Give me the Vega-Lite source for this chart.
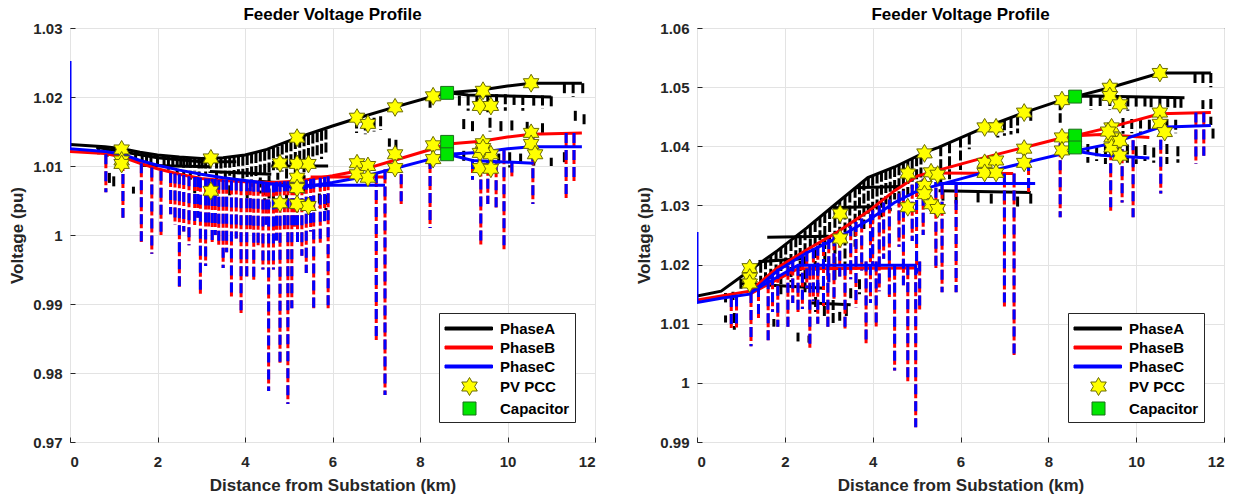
{
"$schema": "https://vega.github.io/schema/vega-lite/v6.json",
"padding": {"left": 8, "top": 5, "right": 5, "bottom": 5},
"background": "white",
"config": {
  "font": "Liberation Sans",
  "view": {"stroke": "#262626", "strokeWidth": 1},
  "title": {"fontSize": 17, "fontWeight": "bold", "color": "#000000", "offset": -3, "font": "Liberation Sans"},
  "axis": {"labelFont": "Liberation Sans", "labelFontSize": 15, "labelFontWeight": "bold", "labelColor": "#262626", "titleFont": "Liberation Sans", "titleFontSize": 17, "titleFontWeight": "bold", "titleColor": "#262626", "gridColor": "#e3e3e3", "gridWidth": 1, "domain": false, "ticks": true, "tickSize": -5, "tickColor": "#262626", "tickWidth": 1},
  "axisX": {"labelPadding": 17, "titlePadding": 8},
  "axisY": {"labelPadding": 13, "titlePadding": 6},
  "legend": {"labelFont": "Liberation Sans", "labelFontSize": 15, "labelFontWeight": "bold", "labelColor": "#000000", "strokeColor": "#262626", "fillColor": "#ffffff", "padding": 5, "rowPadding": 0, "symbolSize": 400, "symbolStrokeWidth": 1, "symbolOpacity": 1, "labelOffset": 35, "orient": "bottom-right", "offset": 20}
},
"datasets": {
"lines": [
{"p":"L","s":"LA","k":"PhaseA","x":0,"v":1.0131},{"p":"L","s":"LA","k":"PhaseA","x":0.8,"v":1.0128},{"p":"L","s":"LA","k":"PhaseA","x":1.2,"v":1.0125},{"p":"L","s":"LA","k":"PhaseA","x":1.6,"v":1.012},{"p":"L","s":"LA","k":"PhaseA","x":2,"v":1.0116},{"p":"L","s":"LA","k":"PhaseA","x":2.5,"v":1.0113},{"p":"L","s":"LA","k":"PhaseA","x":3,"v":1.0111},{"p":"L","s":"LA","k":"PhaseA","x":3.5,"v":1.0112},{"p":"L","s":"LA","k":"PhaseA","x":4,"v":1.0116},{"p":"L","s":"LA","k":"PhaseA","x":4.5,"v":1.0124},{"p":"L","s":"LA","k":"PhaseA","x":5.2,"v":1.0141},{"p":"L","s":"LA","k":"PhaseA","x":6,"v":1.0158},{"p":"L","s":"LA","k":"PhaseA","x":6.6,"v":1.017},{"p":"L","s":"LA","k":"PhaseA","x":7.4,"v":1.0185},{"p":"L","s":"LA","k":"PhaseA","x":8.3,"v":1.0201},{"p":"L","s":"LA","k":"PhaseA","x":8.64,"v":1.0206},{"p":"L","s":"LA","k":"PhaseA","x":9.4,"v":1.021},{"p":"L","s":"LA","k":"PhaseA","x":10,"v":1.0216},{"p":"L","s":"LA","k":"PhaseA","x":10.54,"v":1.022},{"p":"L","s":"LA","k":"PhaseA","x":11.7,"v":1.022},
{"p":"L","s":"LA2","k":"PhaseA","x":8.64,"v":1.0206},{"p":"L","s":"LA2","k":"PhaseA","x":9.1,"v":1.0203},{"p":"L","s":"LA2","k":"PhaseA","x":11.0,"v":1.02},
{"p":"L","s":"LA3","k":"PhaseA","x":4.6,"v":1.01},{"p":"L","s":"LA3","k":"PhaseA","x":5.9,"v":1.01},
{"p":"L","s":"LA4","k":"PhaseA","x":0.6,"v":1.0127},{"p":"L","s":"LA4","k":"PhaseA","x":2,"v":1.0112},{"p":"L","s":"LA4","k":"PhaseA","x":3,"v":1.0106},{"p":"L","s":"LA4","k":"PhaseA","x":3.8,"v":1.0106},
{"p":"L","s":"LA5","k":"PhaseA","x":1.6,"v":1.0101},{"p":"L","s":"LA5","k":"PhaseA","x":3.2,"v":1.0099},
{"p":"L","s":"LA6","k":"PhaseA","x":3.2,"v":1.0092},{"p":"L","s":"LA6","k":"PhaseA","x":4.6,"v":1.0088},
{"p":"L","s":"LA7","k":"PhaseA","x":4.3,"v":1.0078},{"p":"L","s":"LA7","k":"PhaseA","x":5.2,"v":1.0074},
{"p":"L","s":"LB","k":"PhaseB","x":0,"v":1.0121},{"p":"L","s":"LB","k":"PhaseB","x":0.8,"v":1.0118},{"p":"L","s":"LB","k":"PhaseB","x":1.2,"v":1.0113},{"p":"L","s":"LB","k":"PhaseB","x":1.6,"v":1.0104},{"p":"L","s":"LB","k":"PhaseB","x":2,"v":1.0096},{"p":"L","s":"LB","k":"PhaseB","x":2.5,"v":1.0088},{"p":"L","s":"LB","k":"PhaseB","x":3,"v":1.0082},{"p":"L","s":"LB","k":"PhaseB","x":3.5,"v":1.0079},{"p":"L","s":"LB","k":"PhaseB","x":4,"v":1.0077},{"p":"L","s":"LB","k":"PhaseB","x":4.6,"v":1.0076},{"p":"L","s":"LB","k":"PhaseB","x":5.2,"v":1.0078},{"p":"L","s":"LB","k":"PhaseB","x":6,"v":1.0086},{"p":"L","s":"LB","k":"PhaseB","x":6.6,"v":1.0093},{"p":"L","s":"LB","k":"PhaseB","x":7.4,"v":1.0108},{"p":"L","s":"LB","k":"PhaseB","x":8.3,"v":1.0125},{"p":"L","s":"LB","k":"PhaseB","x":8.64,"v":1.0132},{"p":"L","s":"LB","k":"PhaseB","x":9.4,"v":1.0136},{"p":"L","s":"LB","k":"PhaseB","x":10,"v":1.0142},{"p":"L","s":"LB","k":"PhaseB","x":10.54,"v":1.0146},{"p":"L","s":"LB","k":"PhaseB","x":11.7,"v":1.0148},
{"p":"L","s":"LB2","k":"PhaseB","x":5.5,"v":1.0084},{"p":"L","s":"LB2","k":"PhaseB","x":7.2,"v":1.0084},
{"p":"L","s":"LC","k":"PhaseC","x":0,"v":1.0252},{"p":"L","s":"LC","k":"PhaseC","x":0,"v":1.0125},{"p":"L","s":"LC","k":"PhaseC","x":0.8,"v":1.0121},{"p":"L","s":"LC","k":"PhaseC","x":1.2,"v":1.0117},{"p":"L","s":"LC","k":"PhaseC","x":1.6,"v":1.0108},{"p":"L","s":"LC","k":"PhaseC","x":2,"v":1.0101},{"p":"L","s":"LC","k":"PhaseC","x":2.5,"v":1.0094},{"p":"L","s":"LC","k":"PhaseC","x":3,"v":1.0088},{"p":"L","s":"LC","k":"PhaseC","x":3.5,"v":1.0083},{"p":"L","s":"LC","k":"PhaseC","x":4,"v":1.0079},{"p":"L","s":"LC","k":"PhaseC","x":4.5,"v":1.0075},{"p":"L","s":"LC","k":"PhaseC","x":5.2,"v":1.0068},{"p":"L","s":"LC","k":"PhaseC","x":6,"v":1.0076},{"p":"L","s":"LC","k":"PhaseC","x":6.6,"v":1.0083},{"p":"L","s":"LC","k":"PhaseC","x":7.4,"v":1.0096},{"p":"L","s":"LC","k":"PhaseC","x":8.3,"v":1.0111},{"p":"L","s":"LC","k":"PhaseC","x":8.64,"v":1.0117},{"p":"L","s":"LC","k":"PhaseC","x":9.4,"v":1.012},{"p":"L","s":"LC","k":"PhaseC","x":10,"v":1.0125},{"p":"L","s":"LC","k":"PhaseC","x":10.54,"v":1.0128},{"p":"L","s":"LC","k":"PhaseC","x":11.7,"v":1.0128},
{"p":"L","s":"LC3","k":"PhaseC","x":5.2,"v":1.0072},{"p":"L","s":"LC3","k":"PhaseC","x":7.2,"v":1.0072},
{"p":"L","s":"LC4","k":"PhaseC","x":8.64,"v":1.0117},{"p":"L","s":"LC4","k":"PhaseC","x":9.2,"v":1.0108},{"p":"L","s":"LC4","k":"PhaseC","x":10.6,"v":1.0104},
{"p":"R","s":"RA","k":"PhaseA","x":0,"v":1.0147},{"p":"R","s":"RA","k":"PhaseA","x":0.55,"v":1.0155},{"p":"R","s":"RA","k":"PhaseA","x":1.2,"v":1.019},{"p":"R","s":"RA","k":"PhaseA","x":1.84,"v":1.0224},{"p":"R","s":"RA","k":"PhaseA","x":2.5,"v":1.0262},{"p":"R","s":"RA","k":"PhaseA","x":3.2,"v":1.0305},{"p":"R","s":"RA","k":"PhaseA","x":3.89,"v":1.0347},{"p":"R","s":"RA","k":"PhaseA","x":4.5,"v":1.0365},{"p":"R","s":"RA","k":"PhaseA","x":5.2,"v":1.039},{"p":"R","s":"RA","k":"PhaseA","x":5.5,"v":1.0398},{"p":"R","s":"RA","k":"PhaseA","x":6.55,"v":1.0432},{"p":"R","s":"RA","k":"PhaseA","x":7.45,"v":1.0457},{"p":"R","s":"RA","k":"PhaseA","x":8.3,"v":1.0478},{"p":"R","s":"RA","k":"PhaseA","x":8.61,"v":1.0484},{"p":"R","s":"RA","k":"PhaseA","x":9.4,"v":1.0499},{"p":"R","s":"RA","k":"PhaseA","x":10.54,"v":1.0524},{"p":"R","s":"RA","k":"PhaseA","x":11.7,"v":1.0524},
{"p":"R","s":"RA2","k":"PhaseA","x":8.61,"v":1.0484},{"p":"R","s":"RA2","k":"PhaseA","x":9.0,"v":1.0485},{"p":"R","s":"RA2","k":"PhaseA","x":11.1,"v":1.0482},
{"p":"R","s":"RA3","k":"PhaseA","x":5.5,"v":1.0325},{"p":"R","s":"RA3","k":"PhaseA","x":7.6,"v":1.0322},
{"p":"R","s":"RA4","k":"PhaseA","x":3.1,"v":1.0296},{"p":"R","s":"RA4","k":"PhaseA","x":4.1,"v":1.0298},
{"p":"R","s":"RA5","k":"PhaseA","x":3.6,"v":1.033},{"p":"R","s":"RA5","k":"PhaseA","x":4.6,"v":1.0332},
{"p":"R","s":"RA6","k":"PhaseA","x":1.6,"v":1.0246},{"p":"R","s":"RA6","k":"PhaseA","x":3.0,"v":1.0248},
{"p":"R","s":"RA7","k":"PhaseA","x":1.0,"v":1.0168},{"p":"R","s":"RA7","k":"PhaseA","x":2.9,"v":1.016},
{"p":"R","s":"RA8","k":"PhaseA","x":1.4,"v":1.0205},{"p":"R","s":"RA8","k":"PhaseA","x":2.4,"v":1.021},
{"p":"R","s":"RA9","k":"PhaseA","x":2.6,"v":1.0135},{"p":"R","s":"RA9","k":"PhaseA","x":3.5,"v":1.0132},
{"p":"R","s":"RB","k":"PhaseB","x":0,"v":1.014},{"p":"R","s":"RB","k":"PhaseB","x":0.55,"v":1.0147},{"p":"R","s":"RB","k":"PhaseB","x":1.2,"v":1.0155},{"p":"R","s":"RB","k":"PhaseB","x":1.84,"v":1.0195},{"p":"R","s":"RB","k":"PhaseB","x":2.5,"v":1.0225},{"p":"R","s":"RB","k":"PhaseB","x":3.2,"v":1.0255},{"p":"R","s":"RB","k":"PhaseB","x":3.9,"v":1.029},{"p":"R","s":"RB","k":"PhaseB","x":4.5,"v":1.0325},{"p":"R","s":"RB","k":"PhaseB","x":5.03,"v":1.035},{"p":"R","s":"RB","k":"PhaseB","x":6.5,"v":1.038},{"p":"R","s":"RB","k":"PhaseB","x":7.45,"v":1.0398},{"p":"R","s":"RB","k":"PhaseB","x":8.3,"v":1.0414},{"p":"R","s":"RB","k":"PhaseB","x":8.61,"v":1.0418},{"p":"R","s":"RB","k":"PhaseB","x":9.4,"v":1.0432},{"p":"R","s":"RB","k":"PhaseB","x":10.54,"v":1.0455},{"p":"R","s":"RB","k":"PhaseB","x":11.7,"v":1.0457},
{"p":"R","s":"RB2","k":"PhaseB","x":1.2,"v":1.015},{"p":"R","s":"RB2","k":"PhaseB","x":2.3,"v":1.0193},{"p":"R","s":"RB2","k":"PhaseB","x":5.0,"v":1.0194},
{"p":"R","s":"RB3","k":"PhaseB","x":5.4,"v":1.0355},{"p":"R","s":"RB3","k":"PhaseB","x":7.2,"v":1.0354},
{"p":"R","s":"RB4","k":"PhaseB","x":8.61,"v":1.0418},{"p":"R","s":"RB4","k":"PhaseB","x":9.2,"v":1.042},{"p":"R","s":"RB4","k":"PhaseB","x":10.3,"v":1.0415},
{"p":"R","s":"RC","k":"PhaseC","x":0,"v":1.0255},{"p":"R","s":"RC","k":"PhaseC","x":0,"v":1.0136},{"p":"R","s":"RC","k":"PhaseC","x":0.55,"v":1.0143},{"p":"R","s":"RC","k":"PhaseC","x":1.2,"v":1.015},{"p":"R","s":"RC","k":"PhaseC","x":1.84,"v":1.019},{"p":"R","s":"RC","k":"PhaseC","x":2.5,"v":1.022},{"p":"R","s":"RC","k":"PhaseC","x":3.2,"v":1.0245},{"p":"R","s":"RC","k":"PhaseC","x":3.9,"v":1.0275},{"p":"R","s":"RC","k":"PhaseC","x":4.5,"v":1.0305},{"p":"R","s":"RC","k":"PhaseC","x":5.03,"v":1.0325},{"p":"R","s":"RC","k":"PhaseC","x":6.5,"v":1.0355},{"p":"R","s":"RC","k":"PhaseC","x":7.45,"v":1.0372},{"p":"R","s":"RC","k":"PhaseC","x":8.3,"v":1.0387},{"p":"R","s":"RC","k":"PhaseC","x":8.61,"v":1.0392},{"p":"R","s":"RC","k":"PhaseC","x":9.4,"v":1.0404},{"p":"R","s":"RC","k":"PhaseC","x":10.54,"v":1.0432},{"p":"R","s":"RC","k":"PhaseC","x":11.7,"v":1.0435},
{"p":"R","s":"RC2","k":"PhaseC","x":1.2,"v":1.0152},{"p":"R","s":"RC2","k":"PhaseC","x":2.3,"v":1.0199},{"p":"R","s":"RC2","k":"PhaseC","x":5.0,"v":1.0199},
{"p":"R","s":"RC3","k":"PhaseC","x":5.4,"v":1.0337},{"p":"R","s":"RC3","k":"PhaseC","x":7.7,"v":1.0337},
{"p":"R","s":"RC4","k":"PhaseC","x":8.61,"v":1.0392},{"p":"R","s":"RC4","k":"PhaseC","x":9.2,"v":1.0385},{"p":"R","s":"RC4","k":"PhaseC","x":10.3,"v":1.038}
],
"drops": [
{"p":"L","k":"A","x":0.65,"v":1.013,"b":1.0117},{"p":"L","k":"A","x":0.85,"v":1.0128,"b":1.0112},{"p":"L","k":"A","x":0.9,"v":1.009,"b":1.0075},{"p":"L","k":"A","x":1.0,"v":1.0085,"b":1.0068},{"p":"L","k":"A","x":1.3,"v":1.0124,"b":1.0108},{"p":"L","k":"A","x":1.45,"v":1.007,"b":1.006},{"p":"L","k":"A","x":1.65,"v":1.012,"b":1.01},{"p":"L","k":"A","x":1.85,"v":1.0117,"b":1.0098},{"p":"L","k":"A","x":2.0,"v":1.0116,"b":1.0096},{"p":"L","k":"A","x":2.25,"v":1.0114,"b":1.0094},{"p":"L","k":"A","x":2.45,"v":1.0113,"b":1.009},{"p":"L","k":"A","x":2.6,"v":1.0112,"b":1.0085},{"p":"L","k":"A","x":2.75,"v":1.0112,"b":1.008},{"p":"L","k":"A","x":2.95,"v":1.0111,"b":1.0085},{"p":"L","k":"A","x":3.1,"v":1.0111,"b":1.0088},{"p":"L","k":"A","x":3.35,"v":1.0111,"b":1.008},{"p":"L","k":"A","x":3.55,"v":1.0112,"b":1.0082},{"p":"L","k":"A","x":3.75,"v":1.0113,"b":1.0078},{"p":"L","k":"A","x":3.95,"v":1.0115,"b":1.008},{"p":"L","k":"A","x":4.15,"v":1.0118,"b":1.007},{"p":"L","k":"A","x":4.35,"v":1.0121,"b":1.006},{"p":"L","k":"A","x":4.55,"v":1.0124,"b":1.004},{"p":"L","k":"A","x":4.75,"v":1.0128,"b":1.008},{"p":"L","k":"A","x":4.95,"v":1.0134,"b":1.005},{"p":"L","k":"A","x":5.15,"v":1.0139,"b":1.009},{"p":"L","k":"A","x":5.35,"v":1.0143,"b":1.006},{"p":"L","k":"A","x":5.55,"v":1.0147,"b":1.01},{"p":"L","k":"A","x":5.75,"v":1.0151,"b":1.011},
{"p":"L","k":"A","x":1.1,"v":1.0126,"b":1.0112},{"p":"L","k":"A","x":1.5,"v":1.0122,"b":1.0104},{"p":"L","k":"A","x":1.75,"v":1.0119,"b":1.0099},{"p":"L","k":"A","x":2.15,"v":1.0115,"b":1.0097},{"p":"L","k":"A","x":2.35,"v":1.0114,"b":1.0098},{"p":"L","k":"A","x":2.53,"v":1.0113,"b":1.0093},{"p":"L","k":"A","x":2.68,"v":1.0112,"b":1.0098},{"p":"L","k":"A","x":2.85,"v":1.0112,"b":1.0092},{"p":"L","k":"A","x":3.02,"v":1.0111,"b":1.0096},{"p":"L","k":"A","x":3.2,"v":1.0111,"b":1.009},{"p":"L","k":"A","x":3.45,"v":1.0111,"b":1.0089},{"p":"L","k":"A","x":3.65,"v":1.0112,"b":1.0086},{"p":"L","k":"A","x":3.85,"v":1.0114,"b":1.0088},{"p":"L","k":"A","x":4.05,"v":1.0116,"b":1.0084},{"p":"L","k":"A","x":4.25,"v":1.0119,"b":1.0082},{"p":"L","k":"A","x":4.45,"v":1.0122,"b":1.0086},{"p":"L","k":"A","x":4.65,"v":1.0126,"b":1.0094},{"p":"L","k":"A","x":4.85,"v":1.0131,"b":1.0092},{"p":"L","k":"A","x":5.05,"v":1.0136,"b":1.0098},{"p":"L","k":"A","x":5.25,"v":1.0141,"b":1.0102},{"p":"L","k":"A","x":5.45,"v":1.0145,"b":1.0104},{"p":"L","k":"A","x":5.65,"v":1.0149,"b":1.0112},{"p":"L","k":"A","x":5.85,"v":1.0153,"b":1.0118},
{"p":"L","k":"A","x":2.85,"v":1.0075,"b":1.006},{"p":"L","k":"A","x":3.25,"v":1.008,"b":1.006},{"p":"L","k":"A","x":3.65,"v":1.0072,"b":1.0055},{"p":"L","k":"A","x":4.05,"v":1.0068,"b":1.005},{"p":"L","k":"A","x":4.45,"v":1.0072,"b":1.005},{"p":"L","k":"A","x":4.65,"v":1.006,"b":1.0045},{"p":"L","k":"A","x":5.7,"v":1.006,"b":1.004},{"p":"L","k":"A","x":5.85,"v":1.0058,"b":1.0036},{"p":"L","k":"A","x":6.55,"v":1.0169,"b":1.0148},{"p":"L","k":"A","x":6.75,"v":1.0166,"b":1.0146},{"p":"L","k":"A","x":6.95,"v":1.017,"b":1.015},{"p":"L","k":"A","x":7.1,"v":1.0172,"b":1.0152},{"p":"L","k":"A","x":7.3,"v":1.014,"b":1.0128},{"p":"L","k":"A","x":7.45,"v":1.0138,"b":1.0125},{"p":"L","k":"A","x":8.23,"v":1.0199,"b":1.018},{"p":"L","k":"A","x":8.23,"v":1.0115,"b":1.0098},{"p":"L","k":"A","x":8.9,"v":1.0202,"b":1.0185},{"p":"L","k":"A","x":9.1,"v":1.0202,"b":1.018},{"p":"L","k":"A","x":9.3,"v":1.0203,"b":1.0185},{"p":"L","k":"A","x":9.55,"v":1.0204,"b":1.0178},{"p":"L","k":"A","x":9.75,"v":1.0204,"b":1.0182},{"p":"L","k":"A","x":9.95,"v":1.0204,"b":1.018},{"p":"L","k":"A","x":10.15,"v":1.0203,"b":1.0185},{"p":"L","k":"A","x":10.35,"v":1.0203,"b":1.018},{"p":"L","k":"A","x":10.6,"v":1.0202,"b":1.0185},{"p":"L","k":"A","x":10.8,"v":1.0202,"b":1.0183},{"p":"L","k":"A","x":11.0,"v":1.0201,"b":1.0185},{"p":"L","k":"A","x":9.0,"v":1.0168,"b":1.0152},{"p":"L","k":"A","x":9.2,"v":1.0165,"b":1.015},{"p":"L","k":"A","x":9.6,"v":1.017,"b":1.015},{"p":"L","k":"A","x":9.85,"v":1.0165,"b":1.0148},{"p":"L","k":"A","x":10.1,"v":1.0166,"b":1.015},{"p":"L","k":"A","x":10.45,"v":1.0164,"b":1.015},{"p":"L","k":"A","x":10.8,"v":1.0162,"b":1.0148},{"p":"L","k":"A","x":9.0,"v":1.0122,"b":1.0105},{"p":"L","k":"A","x":9.8,"v":1.0118,"b":1.01},{"p":"L","k":"A","x":10.05,"v":1.012,"b":1.0098},{"p":"L","k":"A","x":10.3,"v":1.0118,"b":1.01},{"p":"L","k":"A","x":10.6,"v":1.0115,"b":1.01},{"p":"L","k":"A","x":11.0,"v":1.0112,"b":1.01},{"p":"L","k":"A","x":11.3,"v":1.012,"b":1.0104},{"p":"L","k":"A","x":11.3,"v":1.022,"b":1.0203},{"p":"L","k":"A","x":11.5,"v":1.022,"b":1.02},{"p":"L","k":"A","x":11.72,"v":1.022,"b":1.0203},{"p":"L","k":"A","x":11.55,"v":1.018,"b":1.0162},{"p":"L","k":"A","x":11.75,"v":1.0175,"b":1.016},
{"p":"L","k":"BC","x":0.82,"v":1.0117,"b":1.0062},{"p":"L","k":"BC","x":1.21,"v":1.0113,"b":1.0025},{"p":"L","k":"BC","x":1.63,"v":1.0104,"b":0.999},{"p":"L","k":"BC","x":1.87,"v":1.0098,"b":0.9973},{"p":"L","k":"BC","x":2.08,"v":1.0093,"b":1.0},{"p":"L","k":"BC","x":2.3,"v":1.009,"b":1.003},{"p":"L","k":"BC","x":2.5,"v":1.0088,"b":0.9925},{"p":"L","k":"BC","x":2.72,"v":1.0085,"b":0.9985},{"p":"L","k":"BC","x":2.85,"v":1.0084,"b":1.001},{"p":"L","k":"BC","x":2.98,"v":1.0083,"b":0.9915},{"p":"L","k":"BC","x":3.1,"v":1.0082,"b":0.9955},{"p":"L","k":"BC","x":3.25,"v":1.0081,"b":0.999},{"p":"L","k":"BC","x":3.4,"v":1.008,"b":0.9982},{"p":"L","k":"BC","x":3.5,"v":1.008,"b":0.9952},{"p":"L","k":"BC","x":3.58,"v":1.008,"b":0.9975},{"p":"L","k":"BC","x":3.69,"v":1.0079,"b":0.9909},{"p":"L","k":"BC","x":3.91,"v":1.0078,"b":0.9887},{"p":"L","k":"BC","x":4.04,"v":1.0078,"b":0.994},{"p":"L","k":"BC","x":4.2,"v":1.0077,"b":0.9935},{"p":"L","k":"BC","x":4.3,"v":1.0077,"b":0.9985},{"p":"L","k":"BC","x":4.41,"v":1.0076,"b":0.995},{"p":"L","k":"BC","x":4.54,"v":1.0076,"b":0.9774},{"p":"L","k":"BC","x":4.65,"v":1.0076,"b":0.995},{"p":"L","k":"BC","x":4.8,"v":1.0077,"b":0.9815},{"p":"L","k":"BC","x":4.98,"v":1.0078,"b":0.9755},{"p":"L","k":"BC","x":5.07,"v":1.0078,"b":0.9894},{"p":"L","k":"BC","x":5.2,"v":1.0078,"b":0.999},{"p":"L","k":"BC","x":5.3,"v":1.0078,"b":0.997},{"p":"L","k":"BC","x":5.4,"v":1.008,"b":0.9945},{"p":"L","k":"BC","x":5.57,"v":1.0082,"b":0.9894},{"p":"L","k":"BC","x":5.9,"v":1.0085,"b":0.9894},{"p":"L","k":"BC","x":7.0,"v":1.009,"b":0.9848},{"p":"L","k":"BC","x":7.2,"v":1.0095,"b":0.9768},{"p":"L","k":"BC","x":7.57,"v":1.0088,"b":1.0045},{"p":"L","k":"BC","x":8.23,"v":1.011,"b":1.001},{"p":"L","k":"BC","x":9.2,"v":1.011,"b":1.008},{"p":"L","k":"BC","x":9.39,"v":1.0105,"b":0.9985},{"p":"L","k":"BC","x":9.55,"v":1.0106,"b":1.0045},{"p":"L","k":"BC","x":9.74,"v":1.0104,"b":1.004},{"p":"L","k":"BC","x":9.92,"v":1.0123,"b":0.9977},{"p":"L","k":"BC","x":10.1,"v":1.0105,"b":1.0085},{"p":"L","k":"BC","x":10.58,"v":1.0146,"b":1.0045},{"p":"L","k":"BC","x":11.34,"v":1.0148,"b":1.0052},{"p":"L","k":"BC","x":11.52,"v":1.0148,"b":1.0075},
{"p":"L","k":"BC","x":2.4,"v":1.0089,"b":1.0015},{"p":"L","k":"BC","x":2.6,"v":1.0087,"b":1.0005},{"p":"L","k":"BC","x":2.92,"v":1.0084,"b":1.0025},{"p":"L","k":"BC","x":3.17,"v":1.0082,"b":1.0012},{"p":"L","k":"BC","x":3.32,"v":1.0081,"b":1.0},{"p":"L","k":"BC","x":3.8,"v":1.0079,"b":0.9995},{"p":"L","k":"BC","x":4.12,"v":1.0078,"b":1.0008},{"p":"L","k":"BC","x":4.48,"v":1.0076,"b":1.0015},{"p":"L","k":"BC","x":4.72,"v":1.0077,"b":0.9992},{"p":"L","k":"BC","x":4.9,"v":1.0078,"b":1.0005},{"p":"L","k":"BC","x":5.13,"v":1.0078,"b":1.0012},{"p":"L","k":"BC","x":5.5,"v":1.0081,"b":1.0005},{"p":"L","k":"BC","x":5.72,"v":1.0083,"b":0.9985},{"p":"L","k":"BC","x":5.82,"v":1.0084,"b":1.002},
{"p":"R","k":"A","x":0.65,"v":1.0152,"b":1.0136},{"p":"R","k":"A","x":0.82,"v":1.0154,"b":1.014},{"p":"R","k":"A","x":0.85,"v":1.0118,"b":1.009},{"p":"R","k":"A","x":0.65,"v":1.0114,"b":1.0102},{"p":"R","k":"A","x":1.45,"v":1.0203,"b":1.016},{"p":"R","k":"A","x":1.68,"v":1.0215,"b":1.0165},{"p":"R","k":"A","x":1.91,"v":1.0228,"b":1.015},{"p":"R","k":"A","x":2.14,"v":1.024,"b":1.017},{"p":"R","k":"A","x":2.35,"v":1.025,"b":1.018},{"p":"R","k":"A","x":2.46,"v":1.0258,"b":1.015},{"p":"R","k":"A","x":2.69,"v":1.0272,"b":1.019},{"p":"R","k":"A","x":2.91,"v":1.0287,"b":1.02},{"p":"R","k":"A","x":3.14,"v":1.0301,"b":1.017},{"p":"R","k":"A","x":3.37,"v":1.0315,"b":1.02},{"p":"R","k":"A","x":3.6,"v":1.033,"b":1.023},{"p":"R","k":"A","x":3.8,"v":1.0342,"b":1.026},{"p":"R","k":"A","x":4.0,"v":1.035,"b":1.027},{"p":"R","k":"A","x":4.2,"v":1.0357,"b":1.028},{"p":"R","k":"A","x":4.4,"v":1.0362,"b":1.029},{"p":"R","k":"A","x":4.6,"v":1.0368,"b":1.03},{"p":"R","k":"A","x":4.8,"v":1.0375,"b":1.031},{"p":"R","k":"A","x":5.0,"v":1.0383,"b":1.032},
{"p":"R","k":"A","x":1.0,"v":1.0176,"b":1.0158},{"p":"R","k":"A","x":1.1,"v":1.0183,"b":1.0162},{"p":"R","k":"A","x":1.32,"v":1.0196,"b":1.0165},{"p":"R","k":"A","x":1.56,"v":1.0209,"b":1.0172},{"p":"R","k":"A","x":1.8,"v":1.0222,"b":1.0185},{"p":"R","k":"A","x":2.02,"v":1.0234,"b":1.0195},{"p":"R","k":"A","x":2.25,"v":1.0246,"b":1.0205},{"p":"R","k":"A","x":2.58,"v":1.0266,"b":1.0222},{"p":"R","k":"A","x":2.8,"v":1.028,"b":1.0232},{"p":"R","k":"A","x":3.02,"v":1.0294,"b":1.0242},{"p":"R","k":"A","x":3.25,"v":1.0308,"b":1.0252},{"p":"R","k":"A","x":3.48,"v":1.0322,"b":1.0262},{"p":"R","k":"A","x":3.7,"v":1.0336,"b":1.0272},{"p":"R","k":"A","x":3.9,"v":1.0347,"b":1.0282},{"p":"R","k":"A","x":4.1,"v":1.0354,"b":1.0292},{"p":"R","k":"A","x":4.3,"v":1.036,"b":1.0302},{"p":"R","k":"A","x":4.5,"v":1.0365,"b":1.031},{"p":"R","k":"A","x":4.7,"v":1.0372,"b":1.0318},{"p":"R","k":"A","x":4.9,"v":1.0379,"b":1.0328},{"p":"R","k":"A","x":5.1,"v":1.0386,"b":1.0338},
{"p":"R","k":"A","x":2.7,"v":1.0145,"b":1.012},{"p":"R","k":"A","x":2.9,"v":1.013,"b":1.011},{"p":"R","k":"A","x":3.1,"v":1.014,"b":1.01},{"p":"R","k":"A","x":3.25,"v":1.012,"b":1.0105},{"p":"R","k":"A","x":3.4,"v":1.013,"b":1.011},{"p":"R","k":"A","x":1.75,"v":1.0108,"b":1.0095},{"p":"R","k":"A","x":2.3,"v":1.0085,"b":1.007},{"p":"R","k":"A","x":2.55,"v":1.008,"b":1.0068},{"p":"R","k":"A","x":3.5,"v":1.016,"b":1.014},{"p":"R","k":"A","x":3.7,"v":1.0175,"b":1.015},{"p":"R","k":"A","x":5.6,"v":1.0325,"b":1.0305},{"p":"R","k":"A","x":5.9,"v":1.032,"b":1.0303},{"p":"R","k":"A","x":6.4,"v":1.0322,"b":1.0305},{"p":"R","k":"A","x":6.7,"v":1.032,"b":1.03},{"p":"R","k":"A","x":7.0,"v":1.0318,"b":1.0302},{"p":"R","k":"A","x":7.3,"v":1.0315,"b":1.0298},{"p":"R","k":"A","x":7.6,"v":1.032,"b":1.03},{"p":"R","k":"A","x":5.55,"v":1.04,"b":1.0335},{"p":"R","k":"A","x":5.75,"v":1.0405,"b":1.034},{"p":"R","k":"A","x":6.0,"v":1.0415,"b":1.036},{"p":"R","k":"A","x":6.2,"v":1.042,"b":1.0395},{"p":"R","k":"A","x":6.85,"v":1.044,"b":1.0415},{"p":"R","k":"A","x":7.0,"v":1.0444,"b":1.0418},{"p":"R","k":"A","x":7.15,"v":1.0448,"b":1.042},{"p":"R","k":"A","x":7.3,"v":1.0452,"b":1.0422},{"p":"R","k":"A","x":7.6,"v":1.046,"b":1.044},{"p":"R","k":"A","x":8.27,"v":1.0478,"b":1.044},{"p":"R","k":"A","x":8.97,"v":1.0485,"b":1.0462},{"p":"R","k":"A","x":9.18,"v":1.0485,"b":1.0465},{"p":"R","k":"A","x":9.4,"v":1.0485,"b":1.0462},{"p":"R","k":"A","x":9.59,"v":1.0485,"b":1.0465},{"p":"R","k":"A","x":9.81,"v":1.0484,"b":1.046},{"p":"R","k":"A","x":10.0,"v":1.0484,"b":1.0465},{"p":"R","k":"A","x":10.2,"v":1.0484,"b":1.0462},{"p":"R","k":"A","x":10.34,"v":1.0483,"b":1.0465},{"p":"R","k":"A","x":10.54,"v":1.0483,"b":1.046},{"p":"R","k":"A","x":10.72,"v":1.0483,"b":1.0465},{"p":"R","k":"A","x":10.88,"v":1.0482,"b":1.0462},{"p":"R","k":"A","x":11.02,"v":1.0482,"b":1.0465},{"p":"R","k":"A","x":9.7,"v":1.0448,"b":1.0421},{"p":"R","k":"A","x":9.9,"v":1.0446,"b":1.0422},{"p":"R","k":"A","x":10.1,"v":1.0447,"b":1.0421},{"p":"R","k":"A","x":10.3,"v":1.0445,"b":1.0423},{"p":"R","k":"A","x":10.7,"v":1.0446,"b":1.0421},{"p":"R","k":"A","x":10.9,"v":1.0445,"b":1.0422},{"p":"R","k":"A","x":8.9,"v":1.0404,"b":1.0372},{"p":"R","k":"A","x":9.1,"v":1.04,"b":1.0375},{"p":"R","k":"A","x":9.3,"v":1.0402,"b":1.037},{"p":"R","k":"A","x":9.6,"v":1.0398,"b":1.0378},{"p":"R","k":"A","x":9.8,"v":1.0403,"b":1.0372},{"p":"R","k":"A","x":10.0,"v":1.04,"b":1.037},{"p":"R","k":"A","x":10.2,"v":1.0402,"b":1.0375},{"p":"R","k":"A","x":10.4,"v":1.0398,"b":1.0372},{"p":"R","k":"A","x":10.7,"v":1.0404,"b":1.037},{"p":"R","k":"A","x":10.95,"v":1.04,"b":1.0372},{"p":"R","k":"A","x":11.34,"v":1.0524,"b":1.0502},{"p":"R","k":"A","x":11.52,"v":1.0524,"b":1.0502},{"p":"R","k":"A","x":11.7,"v":1.0524,"b":1.05},{"p":"R","k":"A","x":11.52,"v":1.0478,"b":1.0463},{"p":"R","k":"A","x":11.7,"v":1.048,"b":1.0462},{"p":"R","k":"A","x":11.7,"v":1.045,"b":1.0436},{"p":"R","k":"A","x":11.75,"v":1.043,"b":1.041},
{"p":"R","k":"BC","x":0.78,"v":1.0145,"b":1.0089},{"p":"R","k":"BC","x":0.9,"v":1.0146,"b":1.0092},{"p":"R","k":"BC","x":1.23,"v":1.0152,"b":1.0062},{"p":"R","k":"BC","x":1.62,"v":1.0175,"b":1.0072},{"p":"R","k":"BC","x":1.84,"v":1.0193,"b":1.0095},{"p":"R","k":"BC","x":2.07,"v":1.0198,"b":1.0095},{"p":"R","k":"BC","x":2.3,"v":1.0198,"b":1.012},{"p":"R","k":"BC","x":2.57,"v":1.0198,"b":1.0055},{"p":"R","k":"BC","x":2.75,"v":1.0198,"b":1.01},{"p":"R","k":"BC","x":2.98,"v":1.0198,"b":1.0095},{"p":"R","k":"BC","x":3.37,"v":1.0198,"b":1.0092},{"p":"R","k":"BC","x":3.85,"v":1.0205,"b":1.0067},{"p":"R","k":"BC","x":4.08,"v":1.0205,"b":1.0095},{"p":"R","k":"BC","x":4.5,"v":1.0198,"b":1.0021},{"p":"R","k":"BC","x":4.8,"v":1.0199,"b":0.9999},{"p":"R","k":"BC","x":4.98,"v":1.0199,"b":0.9925},{"p":"R","k":"BC","x":5.07,"v":1.0205,"b":1.012},{"p":"R","k":"BC","x":2.5,"v":1.0222,"b":1.016},{"p":"R","k":"BC","x":2.75,"v":1.0232,"b":1.015},{"p":"R","k":"BC","x":3.0,"v":1.0243,"b":1.017},{"p":"R","k":"BC","x":3.25,"v":1.0252,"b":1.018},{"p":"R","k":"BC","x":3.5,"v":1.0265,"b":1.0175},{"p":"R","k":"BC","x":3.75,"v":1.0278,"b":1.019},{"p":"R","k":"BC","x":4.0,"v":1.0292,"b":1.02},{"p":"R","k":"BC","x":4.25,"v":1.0305,"b":1.021},{"p":"R","k":"BC","x":4.6,"v":1.032,"b":1.023},{"p":"R","k":"BC","x":4.9,"v":1.0335,"b":1.024},{"p":"R","k":"BC","x":5.15,"v":1.0345,"b":1.025},{"p":"R","k":"BC","x":5.44,"v":1.033,"b":1.0194},{"p":"R","k":"BC","x":5.58,"v":1.0335,"b":1.0153},{"p":"R","k":"BC","x":5.9,"v":1.0338,"b":1.0153},{"p":"R","k":"BC","x":7.0,"v":1.0354,"b":1.0128},{"p":"R","k":"BC","x":7.22,"v":1.0354,"b":1.0047},{"p":"R","k":"BC","x":7.55,"v":1.0375,"b":1.032},{"p":"R","k":"BC","x":8.27,"v":1.0405,"b":1.028},{"p":"R","k":"BC","x":9.42,"v":1.04,"b":1.0291},{"p":"R","k":"BC","x":9.68,"v":1.0395,"b":1.0305},{"p":"R","k":"BC","x":9.93,"v":1.041,"b":1.028},{"p":"R","k":"BC","x":10.56,"v":1.044,"b":1.032},{"p":"R","k":"BC","x":11.36,"v":1.0457,"b":1.037},{"p":"R","k":"BC","x":11.54,"v":1.0457,"b":1.0384},
{"p":"R","k":"BC","x":1.4,"v":1.0162,"b":1.0105},{"p":"R","k":"BC","x":1.72,"v":1.0182,"b":1.012},{"p":"R","k":"BC","x":2.18,"v":1.0205,"b":1.0135},{"p":"R","k":"BC","x":2.4,"v":1.0215,"b":1.0125},{"p":"R","k":"BC","x":2.65,"v":1.0227,"b":1.0138},{"p":"R","k":"BC","x":2.88,"v":1.0238,"b":1.013},{"p":"R","k":"BC","x":3.12,"v":1.0248,"b":1.0142},{"p":"R","k":"BC","x":3.62,"v":1.0272,"b":1.0128},{"p":"R","k":"BC","x":3.95,"v":1.0285,"b":1.0135},{"p":"R","k":"BC","x":4.15,"v":1.03,"b":1.0155},{"p":"R","k":"BC","x":4.38,"v":1.031,"b":1.0145},{"p":"R","k":"BC","x":4.7,"v":1.0325,"b":1.0165},{"p":"R","k":"BC","x":5.0,"v":1.0338,"b":1.0185}
],
"marks": [
{"p":"L","k":"PV PCC","x":1.18,"v":1.0124},{"p":"L","k":"PV PCC","x":1.18,"v":1.0108},{"p":"L","k":"PV PCC","x":1.18,"v":1.0103},{"p":"L","k":"PV PCC","x":3.22,"v":1.0111},{"p":"L","k":"PV PCC","x":3.22,"v":1.0064},{"p":"L","k":"PV PCC","x":4.8,"v":1.0104},{"p":"L","k":"PV PCC","x":4.8,"v":1.0046},{"p":"L","k":"PV PCC","x":5.19,"v":1.0141},{"p":"L","k":"PV PCC","x":5.19,"v":1.0103},{"p":"L","k":"PV PCC","x":5.19,"v":1.0083},{"p":"L","k":"PV PCC","x":5.19,"v":1.0068},{"p":"L","k":"PV PCC","x":5.19,"v":1.0045},{"p":"L","k":"PV PCC","x":5.45,"v":1.0103},{"p":"L","k":"PV PCC","x":5.45,"v":1.0042},{"p":"L","k":"PV PCC","x":6.56,"v":1.017},{"p":"L","k":"PV PCC","x":6.81,"v":1.0161},{"p":"L","k":"PV PCC","x":7.43,"v":1.0185},{"p":"L","k":"PV PCC","x":8.3,"v":1.0201},{"p":"L","k":"PV PCC","x":6.56,"v":1.0104},{"p":"L","k":"PV PCC","x":6.56,"v":1.0088},{"p":"L","k":"PV PCC","x":6.81,"v":1.01},{"p":"L","k":"PV PCC","x":6.81,"v":1.0083},{"p":"L","k":"PV PCC","x":7.43,"v":1.0117},{"p":"L","k":"PV PCC","x":7.43,"v":1.0097},{"p":"L","k":"PV PCC","x":8.3,"v":1.013},{"p":"L","k":"PV PCC","x":8.3,"v":1.011},{"p":"L","k":"PV PCC","x":9.44,"v":1.0209},{"p":"L","k":"PV PCC","x":9.37,"v":1.0187},{"p":"L","k":"PV PCC","x":9.62,"v":1.0187},{"p":"L","k":"PV PCC","x":9.44,"v":1.0133},{"p":"L","k":"PV PCC","x":9.37,"v":1.0119},{"p":"L","k":"PV PCC","x":9.62,"v":1.0117},{"p":"L","k":"PV PCC","x":9.37,"v":1.0097},{"p":"L","k":"PV PCC","x":9.62,"v":1.0096},{"p":"L","k":"PV PCC","x":9.44,"v":1.0126},{"p":"L","k":"PV PCC","x":10.54,"v":1.022},{"p":"L","k":"PV PCC","x":10.54,"v":1.0148},{"p":"L","k":"PV PCC","x":10.54,"v":1.0132},{"p":"L","k":"PV PCC","x":10.63,"v":1.0117},
{"p":"L","k":"Capacitor","x":8.62,"v":1.0206},{"p":"L","k":"Capacitor","x":8.62,"v":1.0135},{"p":"L","k":"Capacitor","x":8.62,"v":1.0117},
{"p":"R","k":"PV PCC","x":1.2,"v":1.0194},{"p":"R","k":"PV PCC","x":1.2,"v":1.0178},{"p":"R","k":"PV PCC","x":1.2,"v":1.0168},{"p":"R","k":"PV PCC","x":3.26,"v":1.0286},{"p":"R","k":"PV PCC","x":3.26,"v":1.0244},{"p":"R","k":"PV PCC","x":4.8,"v":1.0354},{"p":"R","k":"PV PCC","x":4.8,"v":1.0297},{"p":"R","k":"PV PCC","x":5.18,"v":1.0388},{"p":"R","k":"PV PCC","x":5.33,"v":1.0356},{"p":"R","k":"PV PCC","x":5.48,"v":1.0352},{"p":"R","k":"PV PCC","x":5.18,"v":1.0333},{"p":"R","k":"PV PCC","x":5.18,"v":1.0319},{"p":"R","k":"PV PCC","x":5.33,"v":1.0302},{"p":"R","k":"PV PCC","x":5.48,"v":1.0294},{"p":"R","k":"PV PCC","x":6.55,"v":1.0432},{"p":"R","k":"PV PCC","x":6.81,"v":1.0432},{"p":"R","k":"PV PCC","x":6.55,"v":1.0372},{"p":"R","k":"PV PCC","x":6.81,"v":1.0376},{"p":"R","k":"PV PCC","x":6.55,"v":1.0355},{"p":"R","k":"PV PCC","x":6.81,"v":1.0355},{"p":"R","k":"PV PCC","x":7.45,"v":1.0457},{"p":"R","k":"PV PCC","x":7.45,"v":1.0396},{"p":"R","k":"PV PCC","x":7.45,"v":1.0372},{"p":"R","k":"PV PCC","x":8.31,"v":1.0478},{"p":"R","k":"PV PCC","x":8.31,"v":1.0415},{"p":"R","k":"PV PCC","x":8.31,"v":1.0393},{"p":"R","k":"PV PCC","x":9.4,"v":1.0499},{"p":"R","k":"PV PCC","x":9.4,"v":1.0485},{"p":"R","k":"PV PCC","x":9.63,"v":1.0471},{"p":"R","k":"PV PCC","x":9.44,"v":1.0432},{"p":"R","k":"PV PCC","x":9.44,"v":1.0415},{"p":"R","k":"PV PCC","x":9.44,"v":1.0398},{"p":"R","k":"PV PCC","x":9.63,"v":1.0409},{"p":"R","k":"PV PCC","x":9.63,"v":1.0384},{"p":"R","k":"PV PCC","x":9.36,"v":1.0425},{"p":"R","k":"PV PCC","x":10.54,"v":1.0524},{"p":"R","k":"PV PCC","x":10.54,"v":1.0457},{"p":"R","k":"PV PCC","x":10.54,"v":1.0438},{"p":"R","k":"PV PCC","x":10.65,"v":1.0424},
{"p":"R","k":"Capacitor","x":8.61,"v":1.0484},{"p":"R","k":"Capacitor","x":8.61,"v":1.0418},{"p":"R","k":"Capacitor","x":8.61,"v":1.0398}
]
},
"hconcat": [
{
  "width": 525, "height": 414,
  "title": "Feeder Voltage Profile",
  "encoding": {
    "x": {"field": "x", "type": "quantitative", "scale": {"domain": [0, 12], "nice": false, "zero": false}, "axis": {"values": [0,2,4,6,8,10,12], "title": "Distance from Substation (km)"}},
    "y": {"field": "v", "type": "quantitative", "scale": {"domain": [0.97, 1.03], "nice": false, "zero": false}, "axis": {"values": [0.97,0.98,0.99,1,1.01,1.02,1.03], "format": "~g", "title": "Voltage (pu)"}}
  },
  "layer": [
    {"data": {"name": "drops"}, "transform": [{"filter": "datum.p == 'L' && datum.k == 'A'"}], "mark": {"type": "rule", "color": "#000000", "strokeWidth": 3, "strokeDash": [10, 3], "clip": true}, "encoding": {"y2": {"field": "b"}}},
    {"data": {"name": "lines"}, "transform": [{"filter": "datum.p == 'L' && datum.k == 'PhaseA'"}], "mark": {"type": "line", "color": "#000000", "strokeWidth": 3, "clip": true}, "encoding": {"detail": {"field": "s"}, "order": {"value": null}}},
    {"data": {"name": "drops"}, "transform": [{"filter": "datum.p == 'L' && datum.k == 'BC'"}], "mark": {"type": "rule", "color": "#ff0000", "strokeWidth": 3, "strokeDash": [14, 3], "clip": true}, "encoding": {"y2": {"field": "b"}}},
    {"data": {"name": "lines"}, "transform": [{"filter": "datum.p == 'L' && datum.k == 'PhaseB'"}], "mark": {"type": "line", "color": "#ff0000", "strokeWidth": 3, "clip": true}, "encoding": {"detail": {"field": "s"}, "order": {"value": null}}},
    {"data": {"name": "drops"}, "transform": [{"filter": "datum.p == 'L' && datum.k == 'BC'"}], "mark": {"type": "rule", "color": "#0000ff", "strokeWidth": 3, "strokeDash": [10, 7], "clip": true}, "encoding": {"y2": {"field": "b"}}},
    {"data": {"name": "lines"}, "transform": [{"filter": "datum.p == 'L' && datum.k == 'PhaseC'"}], "mark": {"type": "line", "color": "#0000ff", "strokeWidth": 3, "clip": true}, "encoding": {"detail": {"field": "s"}, "order": {"value": null}}},
    {"data": {"name": "marks"}, "transform": [{"filter": "datum.p == 'L' && datum.k == 'PV PCC'"}], "mark": {"type": "point", "filled": true, "size": 2116, "shape": "M0,-0.39L0.1126,-0.195L0.3377,-0.195L0.2252,0L0.3377,0.195L0.1126,0.195L0,0.39L-0.1126,0.195L-0.3377,0.195L-0.2252,0L-0.3377,-0.195L-0.1126,-0.195Z", "fill": "#ffff00", "stroke": "#6b6b00", "strokeWidth": 1, "opacity": 1}},
    {"data": {"name": "marks"}, "transform": [{"filter": "datum.p == 'L' && datum.k == 'Capacitor'"}], "mark": {"type": "point", "filled": true, "size": 2116, "shape": "M-0.28,-0.28H0.28V0.28H-0.28Z", "fill": "#00e600", "stroke": "#1b6e1b", "strokeWidth": 1, "opacity": 1}},
    {"data": {"name": "marks"}, "transform": [{"filter": "false"}], "mark": {"type": "point", "filled": true, "strokeWidth": 1, "opacity": 1},
     "encoding": {
       "shape": {"field": "k", "type": "nominal", "scale": {"domain": ["PhaseA","PhaseB","PhaseC","PV PCC","Capacitor"], "range": ["M-0.95,-0.15H3.8V0.15H-0.95Z","M-0.95,-0.15H3.8V0.15H-0.95Z","M-0.95,-0.15H3.8V0.15H-0.95Z","M1.5,-0.9L1.7598,-0.45L2.2794,-0.45L2.0196,0L2.2794,0.45L1.7598,0.45L1.5,0.9L1.2402,0.45L0.7206,0.45L0.9804,0L0.7206,-0.45L1.2402,-0.45Z","M0.85,-0.65H2.15V0.65H0.85Z"]}, "legend": {"title": null, "orient": "bottom-right", "offset": 20}},
       "fill": {"field": "k", "type": "nominal", "scale": {"domain": ["PhaseA","PhaseB","PhaseC","PV PCC","Capacitor"], "range": ["#000000","#ff0000","#0000ff","#ffff00","#00e600"]}, "legend": {"title": null, "orient": "bottom-right", "offset": 20}},
       "stroke": {"field": "k", "type": "nominal", "scale": {"domain": ["PhaseA","PhaseB","PhaseC","PV PCC","Capacitor"], "range": ["#000000","#ff0000","#0000ff","#6b6b00","#1b6e1b"]}, "legend": {"title": null, "orient": "bottom-right", "offset": 20}}
     }}
  ]
},
{
  "width": 527, "height": 414,
  "title": "Feeder Voltage Profile",
  "encoding": {
    "x": {"field": "x", "type": "quantitative", "scale": {"domain": [0, 12], "nice": false, "zero": false}, "axis": {"values": [0,2,4,6,8,10,12], "title": "Distance from Substation (km)"}},
    "y": {"field": "v", "type": "quantitative", "scale": {"domain": [0.99, 1.06], "nice": false, "zero": false}, "axis": {"values": [0.99,1,1.01,1.02,1.03,1.04,1.05,1.06], "format": "~g", "title": "Voltage (pu)"}}
  },
  "layer": [
    {"data": {"name": "drops"}, "transform": [{"filter": "datum.p == 'R' && datum.k == 'A'"}], "mark": {"type": "rule", "color": "#000000", "strokeWidth": 3, "strokeDash": [10, 3], "clip": true}, "encoding": {"y2": {"field": "b"}}},
    {"data": {"name": "lines"}, "transform": [{"filter": "datum.p == 'R' && datum.k == 'PhaseA'"}], "mark": {"type": "line", "color": "#000000", "strokeWidth": 3, "clip": true}, "encoding": {"detail": {"field": "s"}, "order": {"value": null}}},
    {"data": {"name": "drops"}, "transform": [{"filter": "datum.p == 'R' && datum.k == 'BC'"}], "mark": {"type": "rule", "color": "#ff0000", "strokeWidth": 3, "strokeDash": [14, 3], "clip": true}, "encoding": {"y2": {"field": "b"}}},
    {"data": {"name": "lines"}, "transform": [{"filter": "datum.p == 'R' && datum.k == 'PhaseB'"}], "mark": {"type": "line", "color": "#ff0000", "strokeWidth": 3, "clip": true}, "encoding": {"detail": {"field": "s"}, "order": {"value": null}}},
    {"data": {"name": "drops"}, "transform": [{"filter": "datum.p == 'R' && datum.k == 'BC'"}], "mark": {"type": "rule", "color": "#0000ff", "strokeWidth": 3, "strokeDash": [10, 7], "clip": true}, "encoding": {"y2": {"field": "b"}}},
    {"data": {"name": "lines"}, "transform": [{"filter": "datum.p == 'R' && datum.k == 'PhaseC'"}], "mark": {"type": "line", "color": "#0000ff", "strokeWidth": 3, "clip": true}, "encoding": {"detail": {"field": "s"}, "order": {"value": null}}},
    {"data": {"name": "marks"}, "transform": [{"filter": "datum.p == 'R' && datum.k == 'PV PCC'"}], "mark": {"type": "point", "filled": true, "size": 2116, "shape": "M0,-0.39L0.1126,-0.195L0.3377,-0.195L0.2252,0L0.3377,0.195L0.1126,0.195L0,0.39L-0.1126,0.195L-0.3377,0.195L-0.2252,0L-0.3377,-0.195L-0.1126,-0.195Z", "fill": "#ffff00", "stroke": "#6b6b00", "strokeWidth": 1, "opacity": 1}},
    {"data": {"name": "marks"}, "transform": [{"filter": "datum.p == 'R' && datum.k == 'Capacitor'"}], "mark": {"type": "point", "filled": true, "size": 2116, "shape": "M-0.28,-0.28H0.28V0.28H-0.28Z", "fill": "#00e600", "stroke": "#1b6e1b", "strokeWidth": 1, "opacity": 1}},
    {"data": {"name": "marks"}, "transform": [{"filter": "false"}], "mark": {"type": "point", "filled": true, "strokeWidth": 1, "opacity": 1},
     "encoding": {
       "shape": {"field": "k", "type": "nominal", "scale": {"domain": ["PhaseA","PhaseB","PhaseC","PV PCC","Capacitor"], "range": ["M-0.95,-0.15H3.8V0.15H-0.95Z","M-0.95,-0.15H3.8V0.15H-0.95Z","M-0.95,-0.15H3.8V0.15H-0.95Z","M1.5,-0.9L1.7598,-0.45L2.2794,-0.45L2.0196,0L2.2794,0.45L1.7598,0.45L1.5,0.9L1.2402,0.45L0.7206,0.45L0.9804,0L0.7206,-0.45L1.2402,-0.45Z","M0.85,-0.65H2.15V0.65H0.85Z"]}, "legend": {"title": null, "orient": "bottom-right", "offset": 20}},
       "fill": {"field": "k", "type": "nominal", "scale": {"domain": ["PhaseA","PhaseB","PhaseC","PV PCC","Capacitor"], "range": ["#000000","#ff0000","#0000ff","#ffff00","#00e600"]}, "legend": {"title": null, "orient": "bottom-right", "offset": 20}},
       "stroke": {"field": "k", "type": "nominal", "scale": {"domain": ["PhaseA","PhaseB","PhaseC","PV PCC","Capacitor"], "range": ["#000000","#ff0000","#0000ff","#6b6b00","#1b6e1b"]}, "legend": {"title": null, "orient": "bottom-right", "offset": 20}}
     }}
  ]
}
],
"spacing": 39,
"resolve": {"scale": {"y": "independent", "shape": "independent", "fill": "independent", "stroke": "independent"}, "legend": {"shape": "independent", "fill": "independent", "stroke": "independent"}}
}
